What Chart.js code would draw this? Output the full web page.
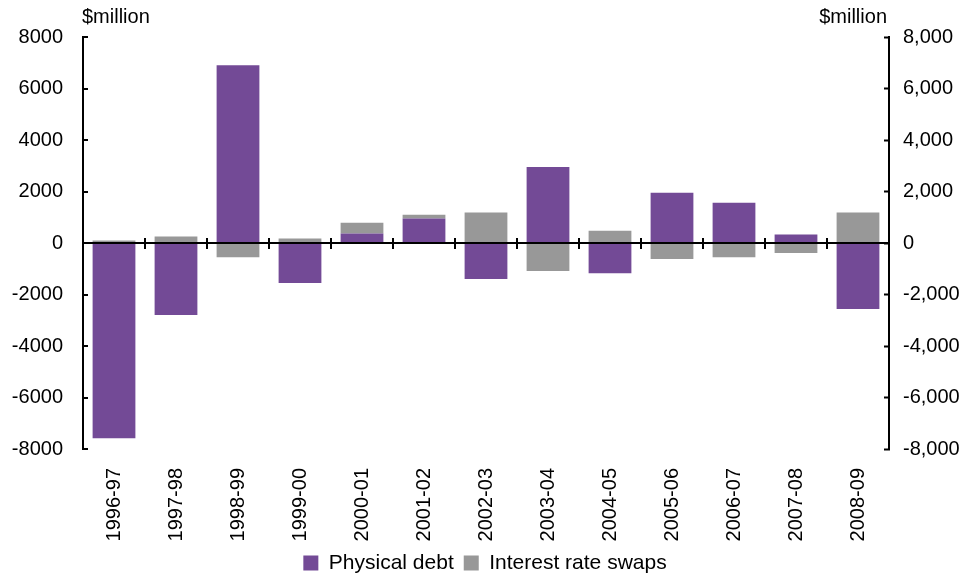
<!DOCTYPE html>
<html lang="en">

<head>
  <meta charset="UTF-8">
  <title>Physical debt and interest rate swaps</title>
  <script src="https://cdn.jsdelivr.net/npm/chart.js"></script>
  <style>
    body {
      margin: 0;
      background: #fff;
    }

    #wrap {
      width: 970px;
      height: 575px;
    }
  </style>
</head>

<body>
  <div id="wrap"><canvas id="debtChart" width="970" height="575"></canvas></div>

  <script>
    const categories = [
      '1996-97', '1997-98', '1998-99', '1999-00', '2000-01', '2001-02', '2002-03',
      '2003-04', '2004-05', '2005-06', '2006-07', '2007-08', '2008-09'
    ];

    const physicalDebt = [-7580, -2800, 6900, -1550, 370, 950, -1400, 2950, -1170, 1950, 1560, 330, -2560];
    const interestRateSwaps = [100, 250, -550, 170, 420, 150, 1180, -1090, 480, -620, -550, -390, 1180];

    const yTicks = [-8000, -6000, -4000, -2000, 0, 2000, 4000, 6000, 8000];

    const fontFamily = '"Liberation Sans", Arial, sans-serif';
    Chart.defaults.font.family = fontFamily;
    Chart.defaults.font.size = 20;
    Chart.defaults.color = '#000';

    // tick marks on the zero line between categories, plus the two unit labels
    const zeroLineTicks = {
      id: 'zeroLineTicks',
      afterDraw(chart) {
        const x = chart.scales.x;
        const y = chart.scales.y;
        const y0 = y.getPixelForValue(0);
        const ctx = chart.ctx;
        ctx.save();
        ctx.strokeStyle = '#000';
        ctx.lineWidth = 2;
        for (let i = 1; i < categories.length; i++) {
          const px = Math.round((x.getPixelForValue(i - 1) + x.getPixelForValue(i)) / 2);
          ctx.beginPath();
          ctx.moveTo(px, y0 - 5);
          ctx.lineTo(px, y0 + 6);
          ctx.stroke();
        }
        ctx.fillStyle = '#000';
        ctx.font = '20px ' + fontFamily;
        ctx.textBaseline = 'middle';
        ctx.textAlign = 'left';
        ctx.fillText('$million', chart.chartArea.left - 1, 17);
        ctx.textAlign = 'right';
        ctx.fillText('$million', chart.chartArea.right - 2, 17);
        ctx.restore();
      }
    };

    const ctx = document.getElementById('debtChart').getContext('2d');

    const debtChart = new Chart(ctx, {
      type: 'bar',
      data: {
        labels: categories,
        datasets: [
          {
            label: 'Physical debt',
            data: physicalDebt,
            backgroundColor: '#734A96',
            yAxisID: 'y'
          },
          {
            label: 'Interest rate swaps',
            data: interestRateSwaps,
            backgroundColor: '#989898',
            yAxisID: 'y'
          }
        ]
      },
      options: {
        responsive: false,
        animation: false,
        layout: {
          padding: { top: 35, left: 0, right: 0, bottom: -8.5 }
        },
        datasets: {
          bar: {
            barPercentage: 0.69,
            categoryPercentage: 1.0
          }
        },
        scales: {
          x: {
            stacked: true,
            grid: { display: false },
            border: { display: false },
            ticks: {
              autoSkip: false,
              minRotation: 90,
              maxRotation: 90,
              padding: 11,
              font: { size: 20 }
            },
            afterFit(scale) {
              scale.height = 93.5;
            }
          },
          y: {
            stacked: true,
            position: 'left',
            min: -8000,
            max: 8000,
            z: 1,
            afterBuildTicks(scale) {
              scale.ticks = yTicks.map(v => ({ value: v }));
            },
            ticks: {
              padding: 25,
              callback: v => String(v)
            },
            grid: {
              color: c => (c.tick && c.tick.value === 0 ? '#000' : 'rgba(0,0,0,0)'),
              lineWidth: 2,
              tickColor: '#000',
              tickWidth: 2,
              tickLength: -5
            },
            border: { color: '#000', width: 2 },
            afterFit(scale) {
              scale.width = 83;
            }
          },
          y1: {
            position: 'right',
            min: -8000,
            max: 8000,
            afterBuildTicks(scale) {
              scale.ticks = yTicks.map(v => ({ value: v }));
            },
            ticks: {
              padding: 19,
              callback: v => v.toLocaleString('en-US')
            },
            grid: {
              drawOnChartArea: false,
              tickColor: '#000',
              tickWidth: 2,
              tickLength: -5
            },
            border: { color: '#000', width: 2 },
            afterFit(scale) {
              scale.width = 81;
            }
          }
        },
        plugins: {
          legend: {
            position: 'bottom',
            labels: {
              boxWidth: 15,
              boxHeight: 15,
              padding: 10,
              font: { size: 21 }
            }
          },
          tooltip: { enabled: false }
        }
      },
      plugins: [zeroLineTicks]
    });
  </script>
</body>

</html>
